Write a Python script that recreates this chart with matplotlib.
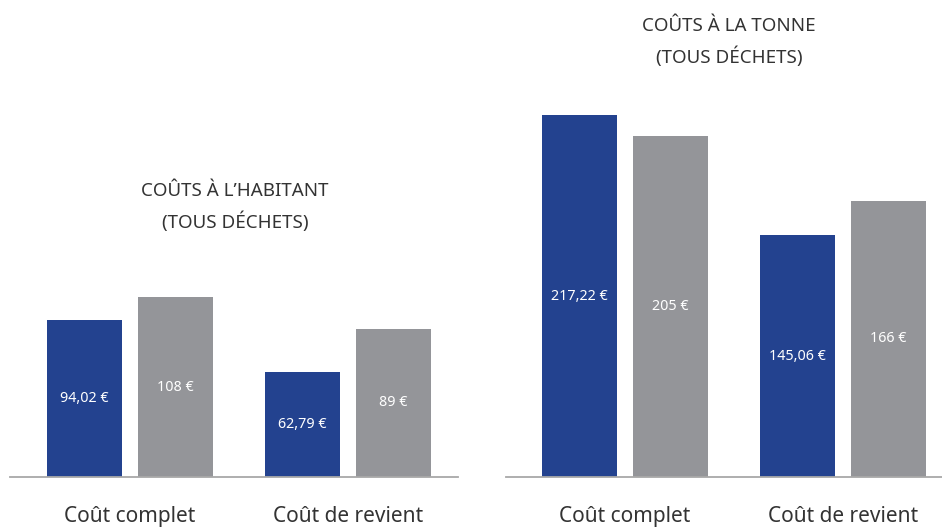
import numpy as np
import matplotlib
matplotlib.use("Agg")
import matplotlib.pyplot as plt

plt.rcParams['font.family'] = ['Noto Sans', 'DejaVu Sans']

categories = ["Coût complet", "Coût de revient"]
titles = ["COÛTS À L’HABITANT\n(TOUS DÉCHETS)", "COÛTS À LA TONNE\n(TOUS DÉCHETS)"]
hab_blue = [94.02, 62.79]
hab_grey = [108, 89]
tonne_blue = [217.22, 145.06]
tonne_grey = [205, 166]

BLUE = "#23428f"
GREY = "#949599"
TEXT = "#333333"


def fmt(v):
    if float(v).is_integer():
        return "{:d} €".format(int(v))
    return "{:.2f} €".format(v).replace(".", ",")


fig = plt.figure(figsize=(9.42, 5.27), dpi=100)
W, H = 942, 527

# axes rectangles in pixels: left, baseline, right, top; title centre x, y
panels = [
    (10, 477, 458, 44, hab_blue, hab_grey, titles[0], 235, 207),
    (506, 477, 942, 44, tonne_blue, tonne_grey, titles[1], 729, 42),
]
ymax = 260
width = 0.344
off = 0.209

for (x0, yb, x1, yt, blue, grey, title, tx, ty), xlim in zip(
        panels, [(-0.55, 1.505), (-0.546, 1.454)]):
    ax = fig.add_axes([x0 / W, (H - yb) / H, (x1 - x0) / W, (yb - yt) / H])
    x = np.arange(len(categories))
    b1 = ax.bar(x - off, blue, width, color=BLUE)
    b2 = ax.bar(x + off, grey, width, color=GREY)
    for bars, vals in [(b1, blue), (b2, grey)]:
        for rect, v in zip(bars, vals):
            ax.text(rect.get_x() + rect.get_width() / 2, v / 2, fmt(v),
                    ha="center", va="center", color="white", fontsize=10.3)
    ax.set_xlim(*xlim)
    ax.set_ylim(0, ymax)
    ax.set_xticks(x)
    ax.set_xticklabels(categories, fontsize=15, color=TEXT)
    ax.tick_params(axis="x", length=0, pad=21)
    ax.set_yticks([])
    for s in ["top", "left", "right"]:
        ax.spines[s].set_visible(False)
    ax.spines["bottom"].set_color("#a8a8a8")
    ax.spines["bottom"].set_linewidth(1.3)
    fig.text(tx / W, 1 - ty / H, title, ha="center", va="center",
             fontsize=13.5, color=TEXT, linespacing=1.65)

fig.savefig("out.png", dpi=100)
